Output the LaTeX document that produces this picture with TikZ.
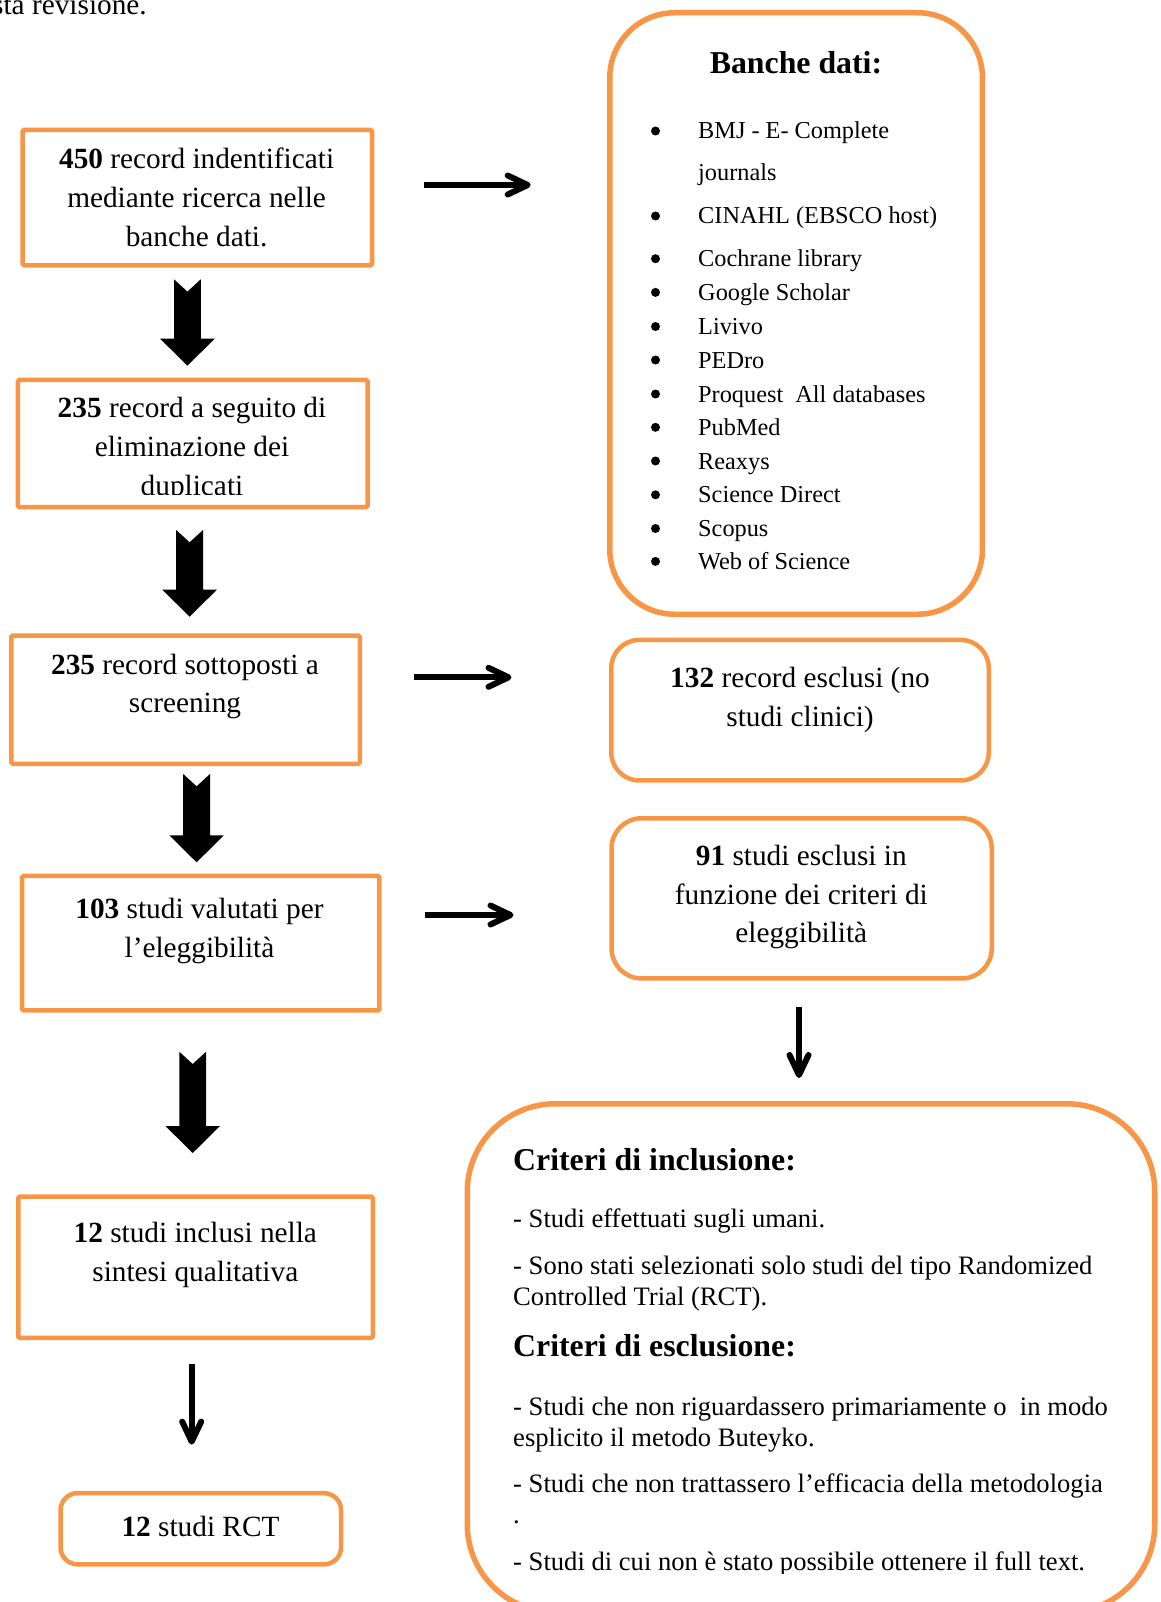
\documentclass[tikz,border=0pt]{standalone}
\usepackage{fontspec}
\setmainfont[Ligatures=CommonOff]{Liberation Serif}
\usetikzlibrary{arrows.meta}
\definecolor{boxorange}{HTML}{F79646}
\tikzset{
  sqbox/.style={draw=boxorange, line width=4.5pt, rounded corners=1.5pt, inner sep=0pt},
  rdbox/.style={draw=boxorange, line width=4.5pt, rounded corners=28pt, inner sep=0pt},
  bigbox/.style={draw=boxorange, line width=5.5pt, inner sep=0pt},
  bt/.style={font=\fontsize{29.3pt}{38.8pt}\selectfont, inner sep=0pt, anchor=base},
  lt/.style={font=\fontsize{24.3pt}{33pt}\selectfont, inner sep=0pt, anchor=base west},
  ct/.style={font=\fontsize{26.6pt}{31pt}\selectfont, inner sep=0pt, anchor=base west},
  ht/.style={font=\bfseries\fontsize{31.8pt}{36pt}\selectfont, inner sep=0pt},
  dot/.style={circle, fill=black, minimum size=9pt, inner sep=0pt},
  thinarrow/.style={line width=6pt, -{Straight Barb[length=20pt,width=19pt,round]}},
  pics/blockarr/.style={code={
    \fill[black] (-13.4,0) -- (0,12.3) -- (13.4,0) -- (13.4,{#1-27}) -- (27.3,{#1-27})
      -- (0,#1) -- (-27.3,{#1-27}) -- (-13.4,{#1-27}) -- cycle;
  }}
}
\begin{document}
\begin{tikzpicture}[x=1pt,y=-1pt]
\useasboundingbox (0,0) rectangle (1160,1602);

% cropped line of running text
\node[bt, anchor=base west] (toptext) at (-8,15) {sta revisione.};

% ---------- left column boxes ----------
\node[sqbox, minimum width=349.4pt, minimum height=135.5pt] (b1) at (197.35,197.7) {};
\node[bt] (b1a) at (196.6,169) {\textbf{450} record indentificati};
\node[bt] (b1b) at (196.6,208) {mediante ricerca nelle};
\node[bt] (b1c) at (196.6,247) {banche dati.};

\node[sqbox, minimum width=349.8pt, minimum height=127.1pt] (b2) at (192.75,443.5) {};
\node[bt] (b2a) at (192,417.7) {\textbf{235} record a seguito di};
\node[bt] (b2b) at (192,456.3) {eliminazione dei};
\begin{scope}
\clip (0,0) rectangle (1160,494);
\node[bt] (b2c) at (192,495) {duplicati};
\end{scope}

\node[sqbox, minimum width=348.5pt, minimum height=128.2pt] (b3) at (185.5,699.65) {};
\node[bt] (b3a) at (185,674) {\textbf{235} record sottoposti a};
\node[bt] (b3b) at (185,712.5) {screening};

\node[sqbox, minimum width=357.4pt, minimum height=134.5pt] (b4) at (200.75,943.2) {};
\node[bt] (b4a) at (199.5,918.3) {\textbf{103} studi valutati per};
\node[bt] (b4b) at (199.5,957) {l’eleggibilità};

\node[sqbox, minimum width=354.5pt, minimum height=141.3pt] (b5) at (195.5,1267.2) {};
\node[bt] (b5a) at (195.3,1242) {\textbf{12} studi inclusi nella};
\node[bt] (b5b) at (195.3,1281) {sintesi qualitativa};

\node[sqbox, rounded corners=17pt, minimum width=280.5pt, minimum height=71.2pt] (b6) at (200.8,1528.75) {};
\node[bt] (b6a) at (200.5,1536.8) {\textbf{12} studi RCT};

% ---------- right column ----------
\node[bigbox, rounded corners=65pt, minimum width=372.7pt, minimum height=601.5pt] (db) at (796.1,313.5) {};
\node[ht, anchor=base] (dbt) at (796,73.4) {Banche dati:};
\node[dot] (d1) at (655.5,131) {};
\node[lt] (l1) at (698,139) {BMJ - E- Complete};
\node[lt] (l1b) at (698,180.6) {journals};
\node[dot] (d2) at (655.5,216) {};
\node[lt] (l2) at (698,224) {CINAHL (EBSCO host)};
\node[dot] (d3) at (655.5,258.7) {};
\node[lt] (l3) at (698,266.7) {Cochrane library};
\node[dot] (d4) at (655.5,292.4) {};
\node[lt] (l4) at (698,300.4) {Google Scholar};
\node[dot] (d5) at (655.5,326.5) {};
\node[lt] (l5) at (698,334.5) {Livivo};
\node[dot] (d6) at (655.5,360) {};
\node[lt] (l6) at (698,368) {PEDro};
\node[dot] (d7) at (655.5,394) {};
\node[lt] (l7) at (698,402) {Proquest\ \ All databases};
\node[dot] (d8) at (655.5,427.3) {};
\node[lt] (l8) at (698,435.3) {PubMed};
\node[dot] (d9) at (655.5,461) {};
\node[lt] (l9) at (698,469) {Reaxys};
\node[dot] (d10) at (655.5,494.8) {};
\node[lt] (l10) at (698,502.8) {Science Direct};
\node[dot] (d11) at (655.5,528.5) {};
\node[lt] (l11) at (698,536.5) {Scopus};
\node[dot] (d12) at (655.5,561.4) {};
\node[lt] (l12) at (698,569.4) {Web of Science};

\node[rdbox, minimum width=377.5pt, minimum height=140.5pt] (r1) at (800,710.2) {};
\node[bt] (r1a) at (800,687) {\textbf{132} record esclusi (no};
\node[bt] (r1b) at (800,726.7) {studi clinici)};

\node[rdbox, rounded corners=30pt, minimum width=380.2pt, minimum height=160.2pt] (r2) at (801.65,898.35) {};
\node[bt] (r2a) at (801.3,865) {\textbf{91} studi esclusi in};
\node[bt] (r2b) at (801.3,904) {funzione dei criteri di};
\node[bt] (r2c) at (801.3,942.7) {eleggibilità};

\node[bigbox, rounded corners=88pt, minimum width=687.5pt, minimum height=508.5pt] (cr) at (811,1358) {};
\node[ht, anchor=base west] (ci) at (513,1170) {Criteri di inclusione:};
\node[ct] (c1) at (513,1227.3) {- Studi effettuati sugli umani.};
\node[ct] (c2) at (513,1274.3) {- Sono stati selezionati solo studi del tipo Randomized};
\node[ct] (c2b) at (513,1305) {Controlled Trial (RCT).};
\node[ht, anchor=base west] (ce) at (513,1356.7) {Criteri di esclusione:};
\node[ct] (c3) at (513,1415.7) {- Studi che non riguardassero primariamente o\ \ in modo};
\node[ct] (c3b) at (513,1446) {esplicito il metodo Buteyko.};
\node[ct] (c4) at (513,1492.3) {- Studi che non trattassero l’efficacia della metodologia};
\node[ct] (c4b) at (513,1523.3) {.};
\begin{scope}
\clip (0,0) rectangle (1160,1573);
\node[ct] (c5) at (513,1570) {- Studi di cui non è stato possibile ottenere il full text.};
\end{scope}

% ---------- connectors ----------
\coordinate (v1) at (187.4,279.3);
\coordinate (v2) at (189.6,530);
\coordinate (v3) at (196.6,774);
\coordinate (v4) at (192.7,1051.7);
\pic at (v1) {blockarr=86.4};
\pic at (v2) {blockarr=86.7};
\pic at (v3) {blockarr=88.3};
\pic at (v4) {blockarr=101.3};

\coordinate (a1s) at (424,185);   \coordinate (a1e) at (530.7,185);
\coordinate (a2s) at (414,677.3); \coordinate (a2e) at (511.5,677.3);
\coordinate (a3s) at (425,915);   \coordinate (a3e) at (513.5,915);
\coordinate (a4s) at (191.7,1364); \coordinate (a4e) at (191.7,1444.6);
\coordinate (a5s) at (799,1007.3); \coordinate (a5e) at (799,1078);
\draw[thinarrow] (a1s) -- (a1e);
\draw[thinarrow] (a2s) -- (a2e);
\draw[thinarrow] (a3s) -- (a3e);
\draw[thinarrow] (a4s) -- (a4e);
\draw[thinarrow] (a5s) -- (a5e);
\end{tikzpicture}
\end{document}
